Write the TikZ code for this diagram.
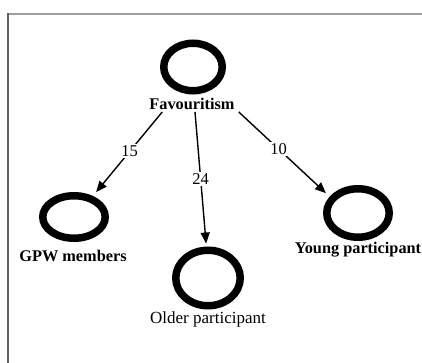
\documentclass[tikz,border=0pt]{standalone}
\usepackage{fontspec}
\setmainfont{Liberation Serif}
\usetikzlibrary{arrows.meta,shapes.geometric}
\begin{document}
\begin{tikzpicture}[x=1pt,y=-1pt,
  ring/.style={draw=black,line width=7.5pt,ellipse,inner sep=0pt},
  lbl/.style={inner sep=1pt,font=\fontsize{17}{19}\selectfont},
  boldlbl/.style={lbl,font=\fontsize{16.3}{18}\selectfont\bfseries},
  weight/.style={fill=white,inner sep=1.5pt,font=\fontsize{16.5}{18}\selectfont},
  link/.style={line width=1.4pt,-{Triangle[length=11pt,width=9pt]},shorten >=5pt}]
\useasboundingbox (0,0) rectangle (422,363);
% frame edges
\draw[line width=1.3pt,draw=black!38] (7.5,14) -- (422,14);
\draw[line width=1.3pt,draw=black!62] (8,13.5) -- (8,363);
% variables
\node[ring,minimum width=58.5pt,minimum height=47.5pt] (fav) at (193,67) {};
\node[boldlbl] (favl) at (192,104) {Favouritism};
\node[ring,minimum width=62.5pt,minimum height=42.5pt] (gpw) at (74,217) {};
\node[boldlbl] (gpwl) at (73,256) {GPW members};
\node[ring,minimum width=64.5pt,minimum height=55.5pt] (old) at (208,278) {};
\node[lbl] (oldl) at (208,319) {Older participant};
\node[ring,minimum width=62.5pt,minimum height=48.5pt] (yng) at (358,213) {};
\node[boldlbl] (yngl) at (358,250) {Young participant};
% weighted links
\draw[link] ([xshift=14pt,yshift=-1pt]favl.south west) -- node[weight,pos=0.47] {15} (gpw.48);
\draw[link,shorten >=3pt] ([xshift=3pt,yshift=-1pt]favl.south) -- node[weight,pos=0.5] {24} (old.93);
\draw[link] ([xshift=3pt,yshift=-1pt]favl.south east) -- node[weight,pos=0.44] {10} (yng.150);
\end{tikzpicture}
\end{document}
